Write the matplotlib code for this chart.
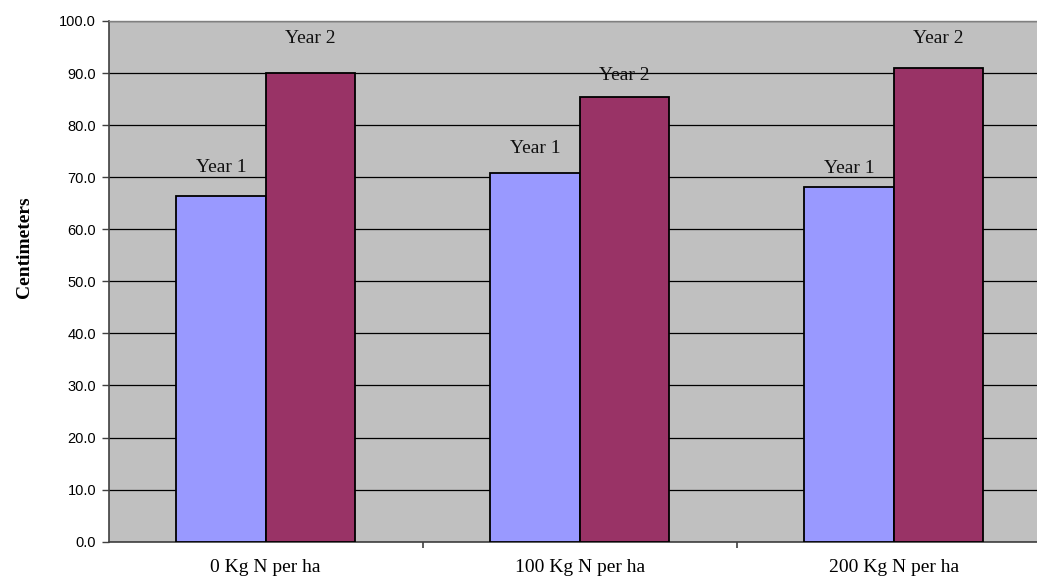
import matplotlib
matplotlib.use("Agg")
import matplotlib.pyplot as plt
import numpy as np

# Plant height by nitrogen rate, two seasons
categories = ["0 Kg N per ha", "100 Kg N per ha", "200 Kg N per ha"]
year1 = [66.3, 70.8, 68.2]
year2 = [90.0, 85.5, 91.0]
series_names = ["Year 1", "Year 2"]
# vertical centre of each series label (data units)
year1_label_y = [71.8, 75.6, 71.6]
year2_label_y = [96.7, 89.6, 96.7]
yticks = [0, 10, 20, 30, 40, 50, 60, 70, 80, 90, 100]

W, H = 1037, 576
fig = plt.figure(figsize=(W / 100, H / 100), dpi=100)
left, right, top, bottom = 108.7, 1050.7, 21.0, 541.7
ax = fig.add_axes([left / W, 1 - bottom / H, (right - left) / W, (bottom - top) / H])

serif = "Liberation Serif"
sans = "Liberation Sans"

x = np.arange(len(categories))
w = 0.285
ax.set_facecolor("#C0C0C0")
ax.bar(x - w / 2, year1, width=w, color="#9999FF", edgecolor="black", linewidth=1.3, zorder=3)
ax.bar(x + w / 2, year2, width=w, color="#993366", edgecolor="black", linewidth=1.3, zorder=3)

for xi, yv in zip(x - w / 2, year1_label_y):
    ax.text(xi, yv, series_names[0], ha="center", va="center", fontfamily=serif, fontsize=14, color="#111111", zorder=4)
for xi, yv in zip(x + w / 2, year2_label_y):
    ax.text(xi, yv, series_names[1], ha="center", va="center", fontfamily=serif, fontsize=14, color="#111111", zorder=4)

ax.set_xlim(-0.5, len(categories) - 0.5)
ax.set_ylim(0, 100)
ax.set_yticks(yticks)
ax.set_yticklabels([f"{v:.1f}" for v in yticks], fontfamily=sans, fontsize=10.5)
ax.yaxis.grid(True, color="black", linewidth=0.9, zorder=1)
ax.set_axisbelow(True)

ax.set_xticks(np.arange(len(categories) - 1) + 0.5)
ax.set_xticklabels([])
ax.set_xticks(x, minor=True)
ax.set_xticklabels(categories, minor=True, fontfamily=serif, fontsize=14)
ax.tick_params(axis="x", which="minor", length=0, pad=12.5)
ax.tick_params(axis="x", which="major", length=4, width=1.2, color="#404040", direction="out")
ax.tick_params(axis="y", length=5, width=1.0, color="#404040", direction="out", pad=4)

for side in ("left", "bottom"):
    ax.spines[side].set_color("#404040")
    ax.spines[side].set_linewidth(1.2)
for side in ("top", "right"):
    ax.spines[side].set_color("#808080")
    ax.spines[side].set_linewidth(1.0)

fig.text(25 / W, 1 - 247 / H, "Centimeters", rotation=90, ha="center", va="center",
         fontfamily=serif, fontsize=14, fontweight="bold")

fig.savefig("out.png", dpi=100, facecolor="white")
